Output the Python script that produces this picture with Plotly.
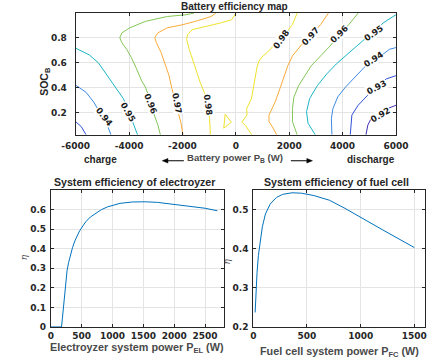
import plotly.graph_objects as go

# ---------------- data ----------------
# Battery efficiency map: contour lines (battery power W, SOC)
c092_x = [6000, 5684, 5332, 5111, 4945, 4875]
c092_y = [0.257, 0.231, 0.200, 0.168, 0.097, 0.020]

c093_left_x = [-6000, -5790, -5610]
c093_left_y = [0.125, 0.086, 0.020]
c093_right_x = [6000, 5638, 5286, 4935, 4583, 4348, 4288]
c093_right_y = [0.494, 0.468, 0.403, 0.336, 0.257, 0.178, 0.020]

c094_left_x = [-6000, -5613, -5321, -5146, -4970, -4794, -4678]
c094_left_y = [0.418, 0.361, 0.282, 0.216, 0.151, 0.086, 0.020]
c094_right_x = [6000, 5754, 5518, 5167, 4815, 4464, 4112, 3820, 3640, 3580, 3600]
c094_right_y = [0.719, 0.705, 0.666, 0.626, 0.561, 0.482, 0.403, 0.324, 0.231, 0.152, 0.020]

c095_left_x = [-6000, -5497, -5146, -4794, -4442, -4207, -4031, -3855, -3680]
c095_left_y = [0.714, 0.661, 0.596, 0.491, 0.387, 0.308, 0.216, 0.125, 0.020]
c095_right_x = [6000, 5518, 5167, 4815, 4464, 4112, 3760, 3409, 3057, 2765, 2649, 2706, 2976]
c095_right_y = [0.982, 0.916, 0.837, 0.784, 0.719, 0.652, 0.587, 0.508, 0.415, 0.310, 0.205, 0.113, 0.020]

c096_left_x = [-1570, -1865, -2568, -3388, -3975, -4267, -4347, -4267, -4091, -3915,
               -3715, -3528, -3388, -3272, -3212, -3071, -2920, -2825]
c096_left_y = [0.995, 0.982, 0.968, 0.929, 0.877, 0.837, 0.798, 0.758, 0.705, 0.640,
               0.547, 0.452, 0.403, 0.336, 0.271, 0.192, 0.099, 0.020]
c096_right_x = [4583, 4232, 3880, 3528, 3177, 2825, 2590, 2354, 2178, 2122, 2122, 2298]
c096_right_y = [0.995, 0.903, 0.824, 0.731, 0.652, 0.573, 0.494, 0.415, 0.323, 0.231, 0.126, 0.020]

c097_left_x = [-751, -926, -1514, -1981, -2568, -2920, -3036, -2976, -2800, -2625,
               -2509, -2393, -2273, -2157, -2052, -1981]
c097_left_y = [0.995, 0.968, 0.929, 0.903, 0.877, 0.837, 0.798, 0.758, 0.679, 0.561,
               0.500, 0.389, 0.286, 0.192, 0.113, 0.020]
c097_right_x = [3469, 3177, 2941, 2695, 2474, 2122, 1946, 1827, 1651, 1475, 1243, 1243, 1359, 1535]
c097_right_y = [0.995, 0.903, 0.847, 0.784, 0.745, 0.652, 0.573, 0.494, 0.389, 0.284, 0.178, 0.125, 0.088, 0.020]

c098_left_x = [10, -163, -575, -1162, -1630, -1805, -1841, -1746, -1630, -1514,
               -1338, -1162, -1042, -986, -951]
c098_left_y = [0.995, 0.942, 0.916, 0.889, 0.863, 0.824, 0.784, 0.705, 0.626, 0.547,
               0.442, 0.350, 0.258, 0.152, 0.020]
c098_loop_x = [-399, -452, -170, -399]
c098_loop_y = [0.185, 0.073, 0.121, 0.185]
c098_right_x = [2298, 2122, 1886, 1640, 1394, 1183, 972, 867, 796, 726, 656, 585, 410, 420, 223, 364, 596]
c098_right_y = [0.995, 0.903, 0.840, 0.776, 0.729, 0.681, 0.642, 0.610, 0.563, 0.484,
                 0.405, 0.310, 0.231, 0.179, 0.121, 0.095, 0.020]

# contour labels: (text, power, SOC, angle)
label_text = ["0.98", "0.97", "0.96", "0.95", "0.94", "0.93", "0.92",
              "0.98", "0.97", "0.96", "0.95", "0.94"]
label_x = [1711, 2801, 3880, 5167, 5167, 5286, 5403,
           -1042, -2217, -3212, -4031, -4910]
label_y = [0.784, 0.810, 0.824, 0.837, 0.626, 0.403, 0.178,
           0.257, 0.271, 0.271, 0.205, 0.166]
label_angle = [-55, -48, -45, -35, -33, -28, -30,
               82, 80, 68, 60, 52]

# Electrolyzer system efficiency
el_power = [0, 100, 172, 187, 202, 215, 227, 245, 263, 288, 313, 350, 389, 430, 465,
            520, 566, 640, 717, 820, 919, 1020, 1121, 1323, 1525, 1727, 2000, 2200, 2500, 2700]
el_eta = [0, 0, 0, 0.045, 0.096, 0.15, 0.199, 0.25, 0.29, 0.33, 0.363, 0.405, 0.440, 0.468, 0.491,
          0.517, 0.538, 0.562, 0.580, 0.600, 0.614, 0.625, 0.632, 0.639, 0.640, 0.637, 0.627, 0.620, 0.607, 0.594]

# Fuel cell system efficiency
fc_power = [17, 22, 26, 35, 47, 64, 84, 113, 157, 215, 273, 360, 448, 564, 709, 855,
            1000, 1200, 1500]
fc_eta = [0.237, 0.270, 0.299, 0.340, 0.382, 0.423, 0.456, 0.489, 0.514, 0.531, 0.539,
          0.543, 0.542, 0.536, 0.524, 0.503, 0.480, 0.449, 0.403]

top_xticks = [-6000, -4000, -2000, 0, 2000, 4000, 6000]
top_xtext = ["-6000", "-4000", "-2000", "0", "2000", "4000", "6000"]
top_yticks = [0.2, 0.4, 0.6, 0.8]
el_xticks = [0, 500, 1000, 1500, 2000, 2500]
el_yticks = [0, 0.1, 0.2, 0.3, 0.4, 0.5, 0.6]
fc_xticks = [0, 500, 1000, 1500]
fc_yticks = [0.2, 0.3, 0.4, 0.5]

# ---------------- style ----------------
W, H = 439, 364
def fx(p):
    return p / W
def fy(p):
    return 1 - p / H

level_colors = {
    0.92: "#3e2fae",
    0.93: "#3050d8",
    0.94: "#3d8ae2",
    0.95: "#1cb5c5",
    0.96: "#84c656",
    0.97: "#f9ab3a",
    0.98: "#eee22c",
}

contours = [
    (0.92, c092_x, c092_y),
    (0.93, c093_left_x, c093_left_y), (0.93, c093_right_x, c093_right_y),
    (0.94, c094_left_x, c094_left_y), (0.94, c094_right_x, c094_right_y),
    (0.95, c095_left_x, c095_left_y), (0.95, c095_right_x, c095_right_y),
    (0.96, c096_left_x, c096_left_y), (0.96, c096_right_x, c096_right_y),
    (0.97, c097_left_x, c097_left_y), (0.97, c097_right_x, c097_right_y),
    (0.98, c098_left_x, c098_left_y), (0.98, c098_loop_x, c098_loop_y),
    (0.98, c098_right_x, c098_right_y),
]

fig = go.Figure()
for lvl, xs, ys in contours:
    fig.add_trace(go.Scatter(x=xs, y=ys, mode="lines", xaxis="x", yaxis="y",
                             line=dict(color=level_colors[lvl], width=1),
                             showlegend=False, hoverinfo="skip"))

fig.add_trace(go.Scatter(x=el_power, y=el_eta, mode="lines", xaxis="x2", yaxis="y2",
                         line=dict(color="#0072bd", width=1), showlegend=False))
fig.add_trace(go.Scatter(x=fc_power, y=fc_eta, mode="lines", xaxis="x3", yaxis="y3",
                         line=dict(color="#0072bd", width=1), showlegend=False))

dark = "#262626"
TICKFONT = dict(family="DejaVu Sans", size=9, color=dark, weight="bold")
axis_common = dict(showline=True, linecolor=dark, linewidth=1, mirror="allticks",
                   ticks="inside", ticklen=3, tickcolor=dark, showgrid=True,
                   gridcolor="#e4e4e4", gridwidth=1, zeroline=False,
                   tickfont=TICKFONT)

top_plot_l, top_plot_r, top_plot_t, top_plot_b = 65.7, 407, 13.3, 136.7
bot_t, bot_b = 192.7, 331.5
bl_l, bl_r = 39.3, 223.3
br_l, br_r = 255, 438

fig.update_layout(
    width=W, height=H, margin=dict(l=0, r=0, t=0, b=0),
    paper_bgcolor="white", plot_bgcolor="white",
    font=dict(family="Liberation Sans, Arial", size=10, color=dark),
    xaxis=dict(domain=[fx(top_plot_l), fx(top_plot_r)], range=[-6000, 6000],
               tickvals=top_xticks, ticktext=top_xtext, anchor="y",
               ticklabelstandoff=2, **axis_common),
    yaxis=dict(domain=[fy(top_plot_b), fy(top_plot_t)], range=[0.02, 0.995],
               tickvals=top_yticks, anchor="x", ticklabelstandoff=6, **axis_common),
    xaxis2=dict(domain=[fx(bl_l), fx(bl_r)], range=[0, 2800], tickvals=el_xticks,
                anchor="y2", **axis_common),
    yaxis2=dict(domain=[fy(bot_b), fy(bot_t)], range=[0, 0.7], tickvals=el_yticks,
                anchor="x2", ticklabelstandoff=2, **axis_common),
    xaxis3=dict(domain=[fx(br_l), fx(br_r)], range=[0, 1600], tickvals=fc_xticks,
                anchor="y3", **axis_common),
    yaxis3=dict(domain=[fy(bot_b), fy(bot_t)], range=[0.2, 0.55], tickvals=fc_yticks,
                anchor="x3", ticklabelstandoff=2, **axis_common),
)

ann = []
# contour labels
for t, x, y, a in zip(label_text, label_x, label_y, label_angle):
    ann.append(dict(text=t, x=x, y=y, xref="x", yref="y", showarrow=False,
                    textangle=a, bgcolor="white", borderpad=0,
                    font=dict(family="DejaVu Sans", size=8.5, color="#1a1a1a", weight="bold")))

def paper_text(text, x, y, size=10, color=dark, angle=0, weight="bold", style="normal", family=None):
    f = dict(size=size, color=color, weight=weight, style=style)
    if family:
        f["family"] = family
    return dict(text=text, x=fx(x), y=fy(y), xref="paper", yref="paper", showarrow=False,
                textangle=angle, xanchor="center", yanchor="middle", font=f)

ann.append(paper_text("Battery efficiency map", 235, 6.5, size=10))
ann.append(paper_text("System efficiency of electroyzer", 128, 185, size=10.6))
ann.append(paper_text("System efficiency of fuel cell", 344, 185, size=10.6))
ann.append(paper_text("Battery power P<sub>B</sub> (W)", 236, 160, size=9.6, color="#4a4a4a"))
ann.append(paper_text("charge", 92, 162))
ann.append(paper_text("discharge", 380, 162))
ann.append(paper_text("SOC<sub>B</sub>", 33, 83, size=10.5, angle=-90))
ann.append(paper_text("Electroyzer system power P<sub>EL</sub> (W)", 131, 353, size=10.8, color="#4a4a4a"))
ann.append(paper_text("Fuel cell system power P<sub>FC</sub> (W)", 347, 357, size=10.8, color="#4a4a4a"))
ann.append(paper_text("η", 11.5, 261, size=9, color="#555555", angle=-90, weight="normal",
                      style="italic", family="DejaVu Serif"))
ann.append(paper_text("η", 227, 265, size=9, color="#555555", angle=-90, weight="normal",
                      style="italic", family="DejaVu Serif"))
fig.update_layout(annotations=ann)

# direction arrows (charge <- , -> discharge)
def arrow_shapes(x_tail, x_head, y):
    d = 1 if x_head > x_tail else -1
    base = x_head - d * 6
    return [
        dict(type="line", xref="paper", yref="paper", x0=fx(x_tail), x1=fx(base),
             y0=fy(y), y1=fy(y), line=dict(color="black", width=1)),
        dict(type="path", xref="paper", yref="paper",
             path=f"M {fx(x_head)},{fy(y)} L {fx(base)},{fy(y - 2.3)} L {fx(base)},{fy(y + 2.3)} Z",
             fillcolor="black", line=dict(color="black", width=0.5)),
    ]

shapes = arrow_shapes(181, 158, 163) + arrow_shapes(295, 318, 163)
fig.update_layout(shapes=shapes)

fig.write_html("out.html")
